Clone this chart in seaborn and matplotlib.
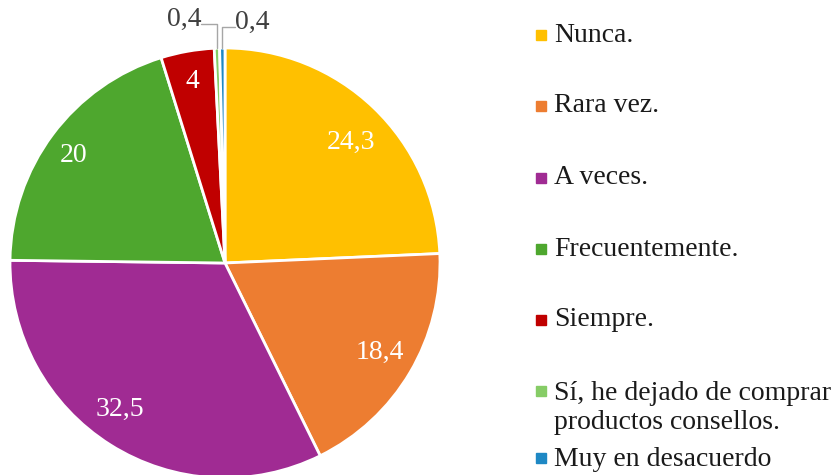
import matplotlib
matplotlib.use("Agg")
import matplotlib.pyplot as plt
import numpy as np
import seaborn as sns
from matplotlib.patches import Rectangle

sns.set_theme(style="white")
plt.rcParams['font.family'] = ['Liberation Serif', 'DejaVu Serif']

# Data
categories = ['Nunca.', 'Rara vez.', 'A veces.', 'Frecuentemente.', 'Siempre.',
              'Sí, he dejado de comprar\nproductos consellos.', 'Muy en desacuerdo']
values = [24.3, 18.4, 32.5, 20, 4, 0.4, 0.4]
value_labels = ['24,3', '18,4', '32,5', '20', '4', '0,4', '0,4']

colors = sns.color_palette(['#FFC000', '#ED7D31', '#A02B93', '#4EA72E',
                            '#C00000', '#86CC66', '#1E88C4'])

fig = plt.figure(figsize=(8.33, 4.75), dpi=100)
# pie axes: centre at (225, 263) px, radius 215 px
ax = fig.add_axes([10 / 833, -3 / 475, 430 / 833, 430 / 475])

wedges, _ = ax.pie(values, colors=colors, startangle=90, counterclock=False,
                   radius=1, wedgeprops=dict(edgecolor='white', linewidth=2))
ax.set_xlim(-1, 1)
ax.set_ylim(-1, 1)
ax.set_aspect('equal')
ax.axis('off')

# label placement tweaks (radius, angle shift in degrees) for inside labels
label_r = [0.81, 0.83, 0.84, 0.865, 0.856]
label_dt = [-2.5, 0.5, -3.5, 1.5, 0.2]

# tiny slices: labels outside with leader lines
outside = {5: ((-0.19, 1.135), (1, 0.3)), 6: ((0.125, 1.12), (0, 0.3))}
for i, (w, txt) in enumerate(zip(wedges, value_labels)):
    mid_deg = (w.theta1 + w.theta2) / 2
    if i in outside:
        pos, rel = outside[i]
        mid = np.deg2rad(mid_deg)
        ax.annotate(txt, xy=(np.cos(mid), np.sin(mid)), xytext=pos,
                    ha='center', va='center', fontsize=20, color='#404040',
                    annotation_clip=False,
                    arrowprops=dict(arrowstyle='-', color='#A6A6A6', lw=1,
                                    shrinkA=0, shrinkB=0, relpos=rel,
                                    patchA=None,
                                    connectionstyle='angle,angleA=0,angleB=90,rad=0'))
    else:
        mid = np.deg2rad(mid_deg + label_dt[i])
        r = label_r[i]
        ax.text(r * np.cos(mid), r * np.sin(mid), txt, ha='center', va='center',
                fontsize=20, color='white')

# legend, laid out like the original
legend_y = [35, 106, 178, 249, 320, 408, 460]
for lab, col, y in zip(categories, colors, legend_y):
    yf = 1 - y / 475
    sy = yf if '\n' not in lab else 1 - 391 / 475
    if lab.startswith('Muy'):
        sy = 1 - 458 / 475
    fig.patches.append(Rectangle((536 / 833, sy - 5 / 475), 10 / 833, 10 / 475,
                                 transform=fig.transFigure, color=col,
                                 figure=fig))
    fig.text(554 / 833, yf, lab, ha='left', va='center', fontsize=20,
             color='#1a1a1a', linespacing=1.22)

fig.savefig('out.png', dpi=100)
